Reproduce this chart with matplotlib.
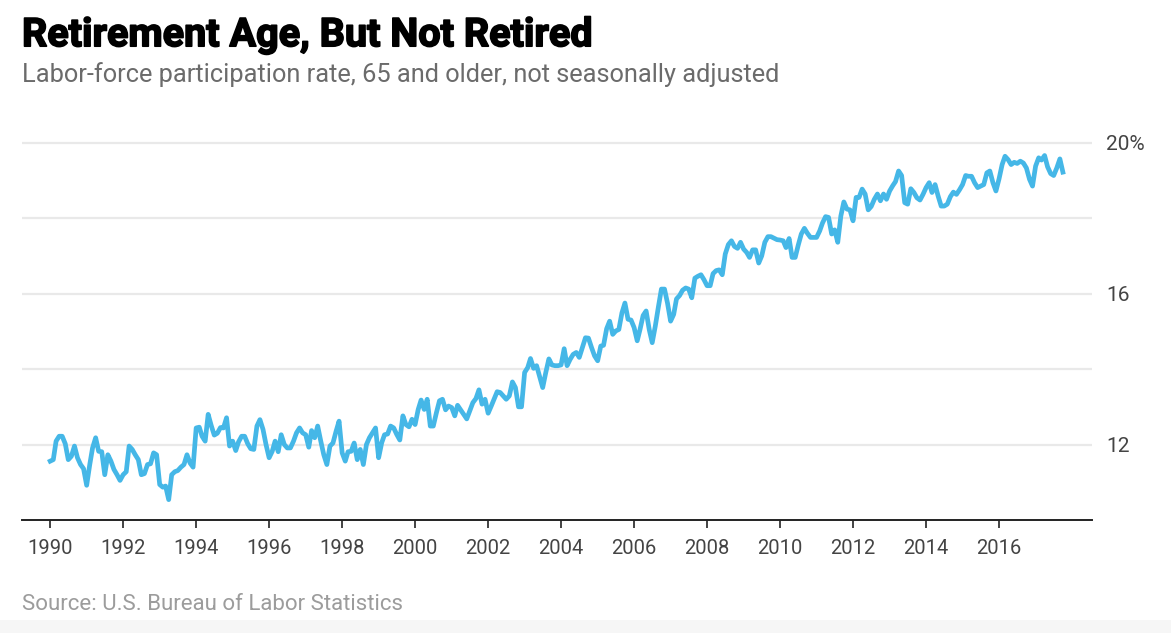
"""Retirement Age, But Not Retired — 65+ labor-force participation line chart."""
import matplotlib
matplotlib.use("Agg")
import matplotlib.pyplot as plt
import matplotlib.dates as mdates
import matplotlib.patheffects as pe
from matplotlib.patches import Rectangle
import pandas as pd

# Monthly labor-force participation rate, 65 and older (%)
rate_1990s = [
    11.56, 11.60, 12.09, 12.22, 12.22, 12.02, 11.60, 11.69, 11.96, 11.65, 11.47, 11.36,  # 1990
    10.92, 11.47, 11.91, 12.18, 11.82, 11.81, 11.20, 11.73, 11.56, 11.34, 11.20, 11.05,  # 1991
    11.20, 11.28, 11.96, 11.87, 11.73, 11.60, 11.20, 11.23, 11.47, 11.49, 11.78, 11.73,  # 1992
    10.94, 10.87, 10.90, 10.54, 11.20, 11.28, 11.31, 11.40, 11.47, 11.73, 11.51, 11.40,  # 1993
    12.44, 12.46, 12.22, 12.09, 12.80, 12.50, 12.25, 12.30, 12.45, 12.44, 12.71, 11.96,  # 1994
    12.09, 11.84, 12.07, 12.22, 12.22, 12.02, 11.89, 11.87, 12.49, 12.66, 12.40, 12.00,  # 1995
    11.65, 11.82, 12.09, 11.81, 12.26, 12.00, 11.91, 11.91, 12.09, 12.31, 12.44, 12.31,  # 1996
    12.26, 11.93, 12.37, 12.18, 12.49, 12.09, 11.73, 11.47, 11.96, 12.04, 12.35, 12.62,  # 1997
    11.78, 11.56, 11.81, 11.82, 12.04, 11.60, 11.87, 11.47, 12.00, 12.18, 12.31, 12.44,  # 1998
    11.65, 12.05, 12.26, 12.28, 12.49, 12.44, 12.27, 12.12, 12.76, 12.53, 12.47, 12.67,  # 1999
]
rate_2000s = [
    12.53, 12.93, 13.18, 12.93, 13.20, 12.49, 12.49, 12.84, 13.16, 13.20, 12.92, 13.02,  # 2000
    12.98, 12.76, 13.04, 12.92, 12.80, 12.68, 12.89, 13.11, 13.22, 13.45, 13.07, 13.20,  # 2001
    12.83, 13.02, 13.20, 13.40, 13.38, 13.29, 13.20, 13.29, 13.66, 13.51, 13.00, 13.00,  # 2002
    13.91, 14.04, 14.28, 14.02, 14.09, 13.80, 13.51, 13.91, 14.27, 14.11, 14.09, 14.09,  # 2003
    14.11, 14.54, 14.09, 14.26, 14.39, 14.44, 14.31, 14.57, 14.83, 14.82, 14.57, 14.35,  # 2004
    14.22, 14.61, 14.63, 15.07, 15.27, 14.92, 15.01, 15.05, 15.49, 15.75, 15.32, 15.30,  # 2005
    15.10, 14.75, 15.05, 15.42, 15.54, 15.05, 14.70, 15.14, 15.65, 16.12, 16.12, 15.75,  # 2006
    15.27, 15.45, 15.86, 15.95, 16.09, 16.15, 16.12, 15.89, 16.41, 16.46, 16.50, 16.37,  # 2007
    16.21, 16.21, 16.53, 16.61, 16.63, 16.50, 17.05, 17.30, 17.40, 17.25, 17.20, 17.36,  # 2008
    17.18, 17.09, 16.96, 17.16, 17.16, 16.81, 17.00, 17.36, 17.51, 17.51, 17.47, 17.43,  # 2009
]
rate_2010s = [
    17.42, 17.40, 17.22, 17.46, 16.96, 16.96, 17.28, 17.58, 17.73, 17.60, 17.49, 17.49,  # 2010
    17.49, 17.66, 17.87, 18.04, 18.02, 17.58, 17.69, 17.36, 18.06, 18.43, 18.24, 18.22,  # 2011
    17.93, 18.55, 18.55, 18.77, 18.64, 18.22, 18.31, 18.50, 18.64, 18.46, 18.64, 18.50,  # 2012
    18.72, 18.86, 18.97, 19.25, 19.13, 18.41, 18.37, 18.78, 18.68, 18.54, 18.48, 18.63,  # 2013
    18.81, 18.94, 18.68, 18.89, 18.59, 18.32, 18.32, 18.37, 18.57, 18.69, 18.63, 18.75,  # 2014
    18.89, 19.13, 19.11, 19.11, 18.94, 18.81, 18.85, 18.89, 19.20, 19.25, 18.94, 18.72,  # 2015
    19.04, 19.42, 19.64, 19.55, 19.42, 19.48, 19.45, 19.51, 19.46, 19.33, 19.03, 18.85,  # 2016
    19.38, 19.60, 19.54, 19.66, 19.36, 19.18, 19.13, 19.33, 19.57, 19.22,                # 2017
]

tick_years = list(range(1990, 2017, 2))
y_ticks = [12, 14, 16, 18, 20]
y_tick_labels = ["12", "", "16", "", "20%"]

title = "Retirement Age, But Not Retired"
subtitle = "Labor-force participation rate, 65 and older, not seasonally adjusted"
source = "Source: U.S. Bureau of Labor Statistics"

rate = rate_1990s + rate_2000s + rate_2010s
months = pd.date_range("1990-01-01", periods=len(rate), freq="MS")

fig = plt.figure(figsize=(11.71, 6.33), dpi=100)
fig.patch.set_facecolor("white")
fig.patches.append(Rectangle((0, 0), 1, 0.021, transform=fig.transFigure,
                             facecolor="#f6f6f6", edgecolor="none", zorder=-1))

ax = fig.add_axes([0.0188, 0.1785, 0.9137, 0.608])
ax.plot(months, rate, color="#45b7e7", lw=3.4, solid_joinstyle="round", zorder=3)

ax.set_xlim(pd.Timestamp("1989-03-25"), pd.Timestamp("2018-07-19"))
ax.set_ylim(10, 20.2)

# x axis: even years 1990-2016, ticks pointing down
ax.set_xticks([pd.Timestamp(f"{y}-01-01") for y in tick_years])
ax.xaxis.set_major_formatter(mdates.DateFormatter("%Y"))
ax.tick_params(axis="x", direction="out", length=6, width=1.2, color="#222222",
               pad=8, labelsize=14.5, labelcolor="#444444")

# y axis on the right, no tick marks
ax.yaxis.tick_right()
ax.set_yticks(y_ticks)
ax.set_yticklabels(y_tick_labels)
ax.tick_params(axis="y", length=0, pad=10, labelsize=15, labelcolor="#444444")
ax.grid(axis="y", color="#e9e9e9", lw=1.6, zorder=0)

for side in ("top", "right", "left"):
    ax.spines[side].set_visible(False)
ax.spines["bottom"].set_color("#222222")
ax.spines["bottom"].set_linewidth(1.4)

for lbl in ax.get_xticklabels() + ax.get_yticklabels():
    lbl.set_family(["Roboto", "DejaVu Sans"])

t = fig.text(0.0188, 0.927, title, fontsize=28.5, fontweight="bold",
             family=["Roboto", "DejaVu Sans"], color="black", va="baseline")
t.set_path_effects([pe.withStroke(linewidth=1.2, foreground="black")])
fig.text(0.0188, 0.871, subtitle, fontsize=18.3, family=["Roboto", "DejaVu Sans"],
         color="#6b6b6b", va="baseline")
fig.text(0.0188, 0.036, source, fontsize=16, family=["Roboto", "DejaVu Sans"],
         color="#9c9c9c", va="baseline")

fig.savefig("out.png", dpi=100)
